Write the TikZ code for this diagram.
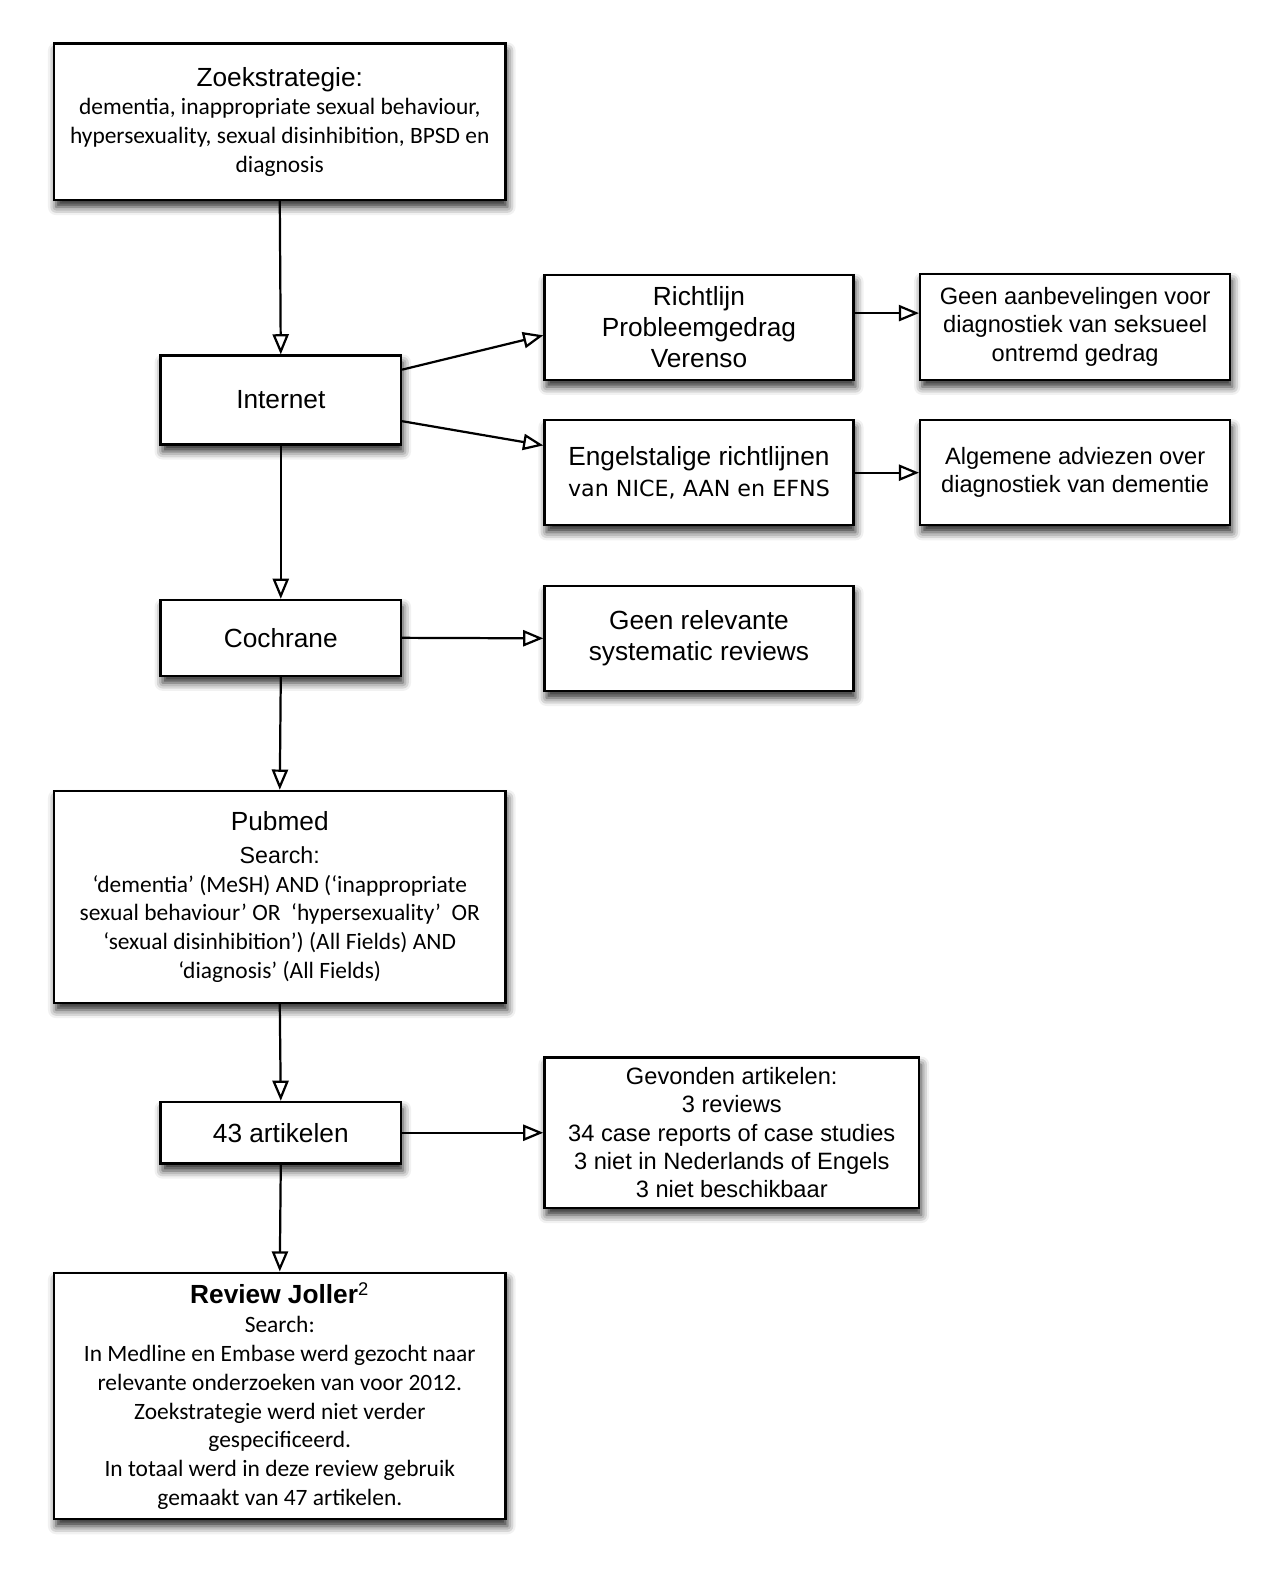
\documentclass[tikz,border=0pt]{standalone}
\usepackage{fontspec}
\setmainfont{Liberation Sans}
\newfontfamily\calfont{Carlito}
\newfontfamily\dvfont{DejaVu Sans}
\usetikzlibrary{arrows.meta,shadows.blur}
\newcommand{\hvt}{\fontsize{13}{14}\selectfont}
\newcommand{\hvs}{\fontsize{11.5}{14}\selectfont}
\newcommand{\cbl}{\calfont\fontsize{11.6}{14}\selectfont}
\tikzset{
  box/.style={draw=black, line width=1.1pt, fill=white, align=center, inner sep=0pt,
    blur shadow={shadow xshift=1pt, shadow yshift=-3.5pt, shadow blur radius=4pt, shadow opacity=85}},
  hv/.style={font=\fontsize{13}{15.5}\selectfont},
  hvsmall/.style={font=\fontsize{11.7}{14}\selectfont},
  mix/.style={font=\fontsize{11.6}{14.25}\selectfont},
  arr/.style={line width=1.1pt, -{Triangle[open, length=10pt, width=8pt, line width=1.1pt]}},
}
\begin{document}
\begin{tikzpicture}[x=0.5pt,y=-0.5pt]
\useasboundingbox (0,0) rectangle (1267.3,1567.3);
\node[box, mix, minimum width=223.5pt, minimum height=77.5pt] (zoek) at (277,120.5)
  {{\hvt Zoekstrategie:}\\
   {\cbl dementia, inappropriate sexual behaviour,}\\
   {\cbl hypersexuality, sexual disinhibition, BPSD en}\\
   {\cbl diagnosis}};
\node[box, hv, minimum width=119pt, minimum height=44pt] (internet) at (278,396) {Internet};
\node[box, hv, minimum width=153pt, minimum height=52pt] (richt) at (692,324)
  {Richtlijn\\Probleemgedrag\\Verenso};
\node[box, hvsmall, minimum width=153.5pt, minimum height=52.5pt] (geen1) at (1064.5,323.5)
  {Geen aanbevelingen voor\\diagnostiek van seksueel\\ontremd gedrag};
\node[box, hv, minimum width=153pt, minimum height=52pt] (engels) at (692,468)
  {Engelstalige richtlijnen\\{\dvfont\fontsize{11}{14}\selectfont van NICE, AAN en EFNS}};
\node[box, hvsmall, minimum width=153.5pt, minimum height=52pt] (algem) at (1064.5,468)
  {Algemene adviezen over\\diagnostiek van dementie};
\node[box, hv, minimum width=119pt, minimum height=37.5pt] (coch) at (278,631.5) {Cochrane};
\node[box, hv, minimum width=153pt, minimum height=52pt] (geen2) at (692,632)
  {Geen relevante\\systematic reviews};
\node[box, mix, minimum width=223.5pt, minimum height=105pt] (pub) at (277,888)
  {{\hvt Pubmed}\\[2pt]
   {\hvs Search:}\\
   {\cbl ‘dementia’ (MeSH) AND (‘inappropriate}\\
   {\cbl sexual behaviour’ OR\ \ ‘hypersexuality’\ \ OR}\\
   {\cbl ‘sexual disinhibition’) (All Fields) AND}\\
   {\cbl ‘diagnosis’ (All Fields)}};
\node[box, hv, minimum width=119pt, minimum height=30.5pt] (art) at (278,1121.5) {43 artikelen};
\node[box, hvsmall, minimum width=185.5pt, minimum height=74.5pt] (gev) at (724.5,1121.5)
  {Gevonden artikelen:\\3 reviews\\34 case reports of case studies\\3 niet in Nederlands of Engels\\3 niet beschikbaar};
\node[box, mix, minimum width=223.5pt, minimum height=122pt] (rev) at (277,1382)
  {{\hvt\bfseries Review Joller\textsuperscript{\mdseries 2}}\\
   {\cbl Search:}\\
   {\cbl In Medline en Embase werd gezocht naar}\\
   {\cbl relevante onderzoeken van voor 2012.}\\
   {\cbl Zoekstrategie werd niet verder}\\
   {\cbl gespecificeerd.}\\
   {\cbl In totaal werd in deze review gebruik}\\
   {\cbl gemaakt van 47 artikelen.}};
\draw[arr] (zoek.south) -- (internet.north);
\draw[arr] (internet.south) -- (coch.north);
\draw[arr] (coch.south) -- (pub.north);
\draw[arr] (pub.south) -- (art.north);
\draw[arr] (art.south) -- (rev.north);
\draw[arr] ([yshift=15pt]internet.east) -- ([yshift=-4pt]richt.west);
\draw[arr] ([yshift=-10.5pt]internet.east) -- ([yshift=13.5pt]engels.west);
\draw[arr] ([yshift=7pt]richt.east) -- ([yshift=7pt]richt.east -| geen1.west);
\draw[arr] (engels.east) -- (algem.west);
\draw[arr] (coch.east) -- (geen2.west);
\draw[arr] (art.east) -- (gev.west);
\end{tikzpicture}
\end{document}
